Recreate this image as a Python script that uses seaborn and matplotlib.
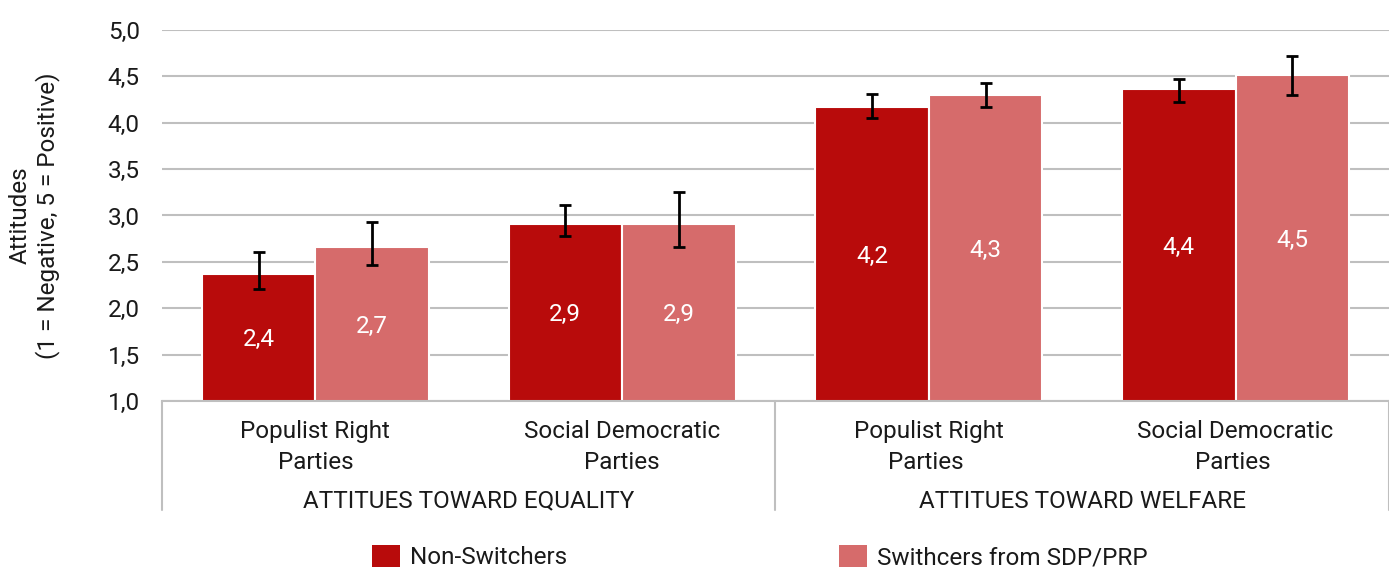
import pandas as pd
import seaborn as sns
import matplotlib.pyplot as plt
from matplotlib.lines import Line2D
from matplotlib.patches import Patch

# data
categories = ['Populist Right\nParties', 'Social Democratic\nParties',
              'Populist Right\nParties ', 'Social Democratic\nParties ']
groups = ['ATTITUES TOWARD EQUALITY', 'ATTITUES TOWARD WELFARE']
series = ['Non-Switchers', 'Swithcers from SDP/PRP']
non_switchers = [2.37, 2.91, 4.17, 4.36]
switchers = [2.66, 2.91, 4.30, 4.51]
non_low = [2.21, 2.78, 4.05, 4.22]
non_high = [2.61, 3.11, 4.31, 4.47]
sw_low = [2.47, 2.66, 4.17, 4.30]
sw_high = [2.93, 3.25, 4.43, 4.72]

df = pd.DataFrame({
    'category': categories * 2,
    'series': [series[0]] * 4 + [series[1]] * 4,
    'value': non_switchers + switchers,
})
lows = [non_low, sw_low]
highs = [non_high, sw_high]
vals = [non_switchers, switchers]

sns.set_style('white')
plt.rcParams['font.family'] = ['Roboto', 'DejaVu Sans']
colors = ['#B80B0B', '#D66B6B']
text_col = '#1a1a1a'
grid_col = '#BFBFBF'
fs = 17.5

fig = plt.figure(figsize=(13.89, 5.69), dpi=100)
ax = fig.add_axes([0.1166, 0.2953, 0.8834, 0.652])

sns.barplot(data=df, x='category', y='value', hue='series', palette=colors,
            width=0.74, errorbar=None, edgecolor='white', linewidth=1.5,
            saturation=1, legend=False, ax=ax, zorder=2)

#error bars and value labels
bar_containers = list(ax.containers)
for i, cont in enumerate(bar_containers):
    for j, bar in enumerate(cont.patches):
        x = bar.get_x() + bar.get_width() / 2
        v = vals[i][j]
        ax.errorbar(x, v, yerr=[[v - lows[i][j]], [highs[i][j] - v]],
                    fmt='none', ecolor='black', elinewidth=2, capsize=4.5,
                    capthick=2, zorder=3)
        ax.text(x, (1 + v) / 2, f'{v:.1f}'.replace('.', ','), ha='center',
                va='center_baseline', color='white', fontsize=fs)

ax.set_ylim(1, 5)
ax.set_xlim(-0.5, 3.5)
ax.set_yticks([1 + 0.5 * k for k in range(9)])
ax.set_yticklabels([f'{1 + 0.5 * k:.1f}'.replace('.', ',') for k in range(9)],
                   fontsize=fs, color=text_col)
ax.tick_params(axis='y', length=0, pad=16)
ax.tick_params(axis='x', length=0, pad=14, labelsize=fs, labelcolor=text_col)
for lbl in ax.get_xticklabels():
    lbl.set_linespacing(1.4)
ax.yaxis.grid(True, color=grid_col, linewidth=1.5, zorder=0)
ax.set_axisbelow(True)
for s in ['top', 'right', 'left']:
    ax.spines[s].set_visible(False)
ax.spines['bottom'].set_color(grid_col)
ax.spines['bottom'].set_linewidth(1.5)
ax.set_xlabel('')
ax.set_ylabel('Attitudes\n(1 = Negative, 5 = Positive)', fontsize=fs,
              color=text_col)
ax.yaxis.set_label_coords(-0.083, 0.5)

#group labels and separators
for k, g in enumerate(groups):
    ax.text(0.25 + 0.5 * k, -0.27, g, transform=ax.transAxes, ha='center',
            va='center', fontsize=fs, color=text_col)
for xs in [0, 0.5, 1]:
    ax.add_line(Line2D([xs, xs], [0, -0.294], transform=ax.transAxes,
                       color=grid_col, linewidth=1.5, clip_on=False))

handles = [Patch(facecolor=c, edgecolor='none') for c in colors]
fig.legend(handles, series, loc='center', bbox_to_anchor=(0.547, 0.021),
           ncol=2, frameon=False, fontsize=fs, columnspacing=11.2,
           handlelength=1.15, handleheight=1.0, handletextpad=0.4,
           labelcolor=text_col)

fig.savefig('out.png', dpi=100)
